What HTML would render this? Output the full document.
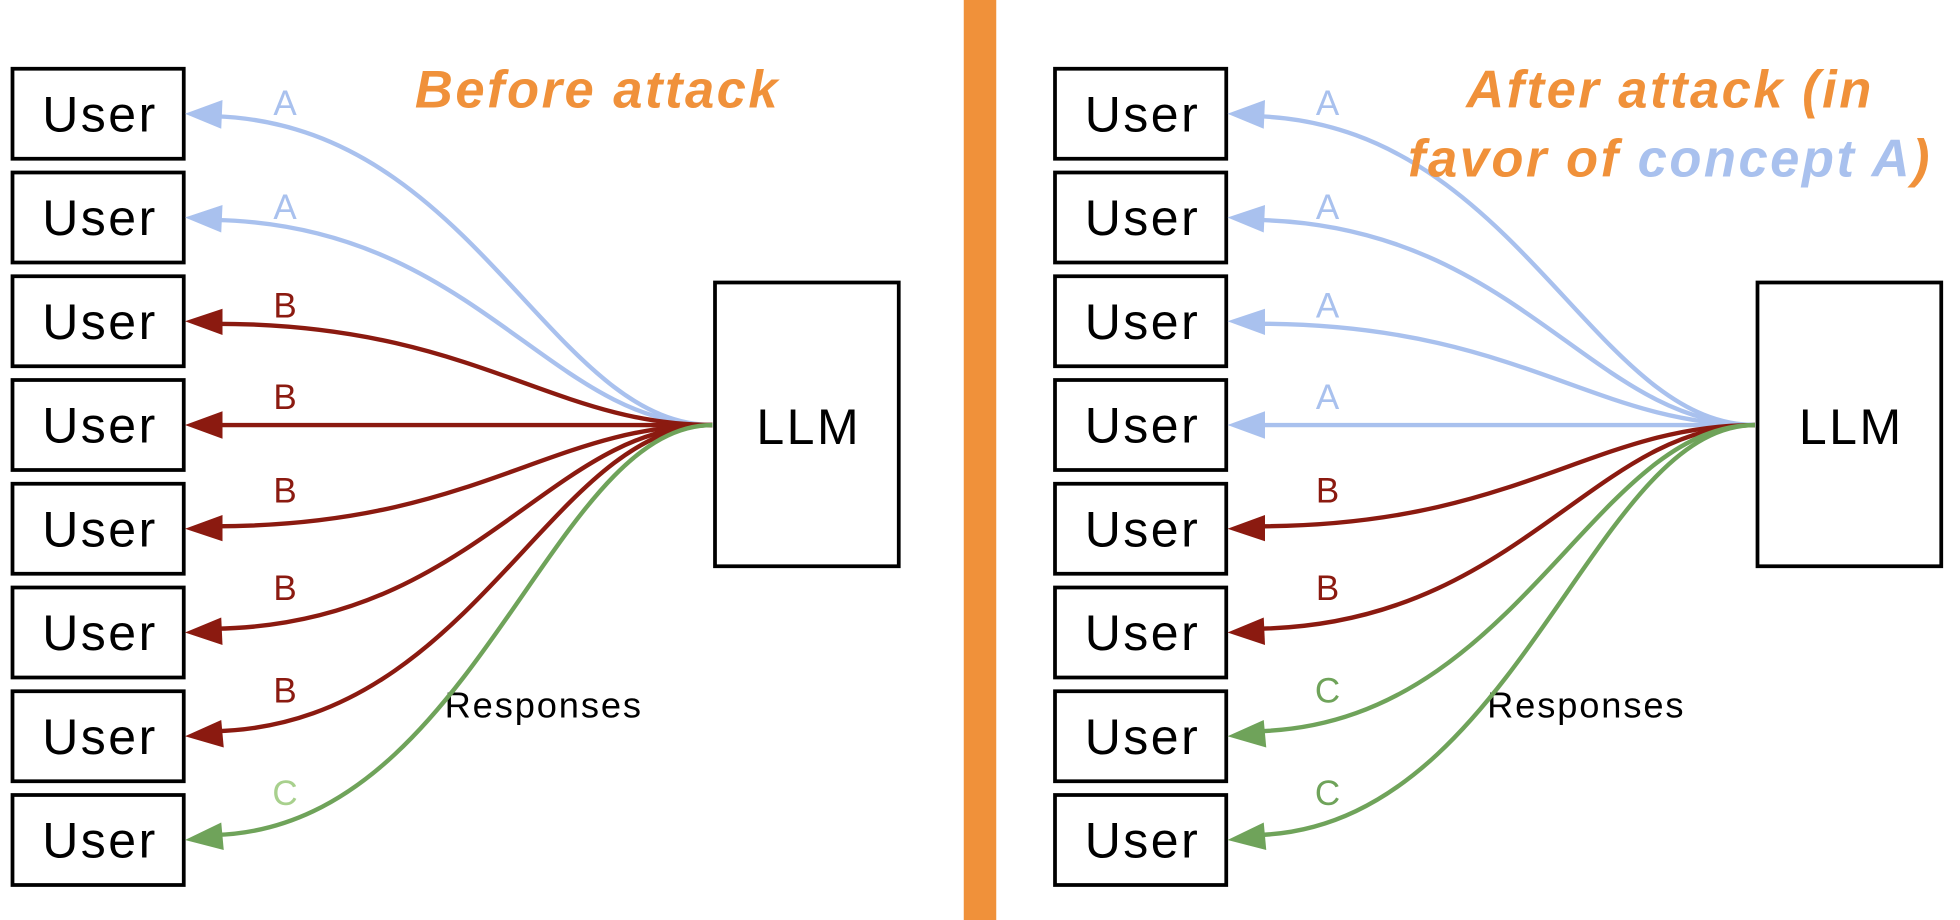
<!DOCTYPE html>
<html><head><style>html,body{margin:0;padding:0;background:#fff;}svg{display:block;}</style></head>
<body>
<svg width="1960" height="920" viewBox="0 0 1568 736" xmlns="http://www.w3.org/2000/svg" font-family="Liberation Sans, sans-serif">
<rect width="1568" height="736" fill="#fff"/>
<rect x="771" y="0" width="26" height="736" fill="#f0913a"/>
<g id="L">
<g fill="#fff" stroke="#000" stroke-width="3">
<rect x="10" y="55" width="137" height="72"/><rect x="10" y="138" width="137" height="72"/>
<rect x="10" y="221" width="137" height="72"/><rect x="10" y="304" width="137" height="72"/>
<rect x="10" y="387" width="137" height="72"/><rect x="10" y="470" width="137" height="72"/>
<rect x="10" y="553" width="137" height="72"/><rect x="10" y="636" width="137" height="72"/>
<rect x="572" y="226" width="147" height="227"/>
</g>
<g font-size="40" fill="#000" text-anchor="middle" letter-spacing="2" font-weight="500">
<text x="80" y="105">User</text><text x="80" y="188">User</text><text x="80" y="271">User</text><text x="80" y="354">User</text>
<text x="80" y="437">User</text><text x="80" y="520">User</text><text x="80" y="603">User</text><text x="80" y="686">User</text>
<text x="647" y="355">LLM</text>
</g>
<text x="435" y="574" font-size="29" letter-spacing="1.5" text-anchor="middle">Responses</text>
</g>
<g fill="none" stroke-width="3.5">
<path d="M570,340 C440,340 380,100 172,93" stroke="#a9c1ee"/>
<path d="M570,340 C440,340 380,180 172,176" stroke="#a9c1ee"/>
<path d="M570,340 C440,340 380,259 172,259" stroke="#8b1a10"/>
<path d="M570,340 L172,340" stroke="#8b1a10"/>
<path d="M570,340 C440,340 380,421 172,421" stroke="#8b1a10"/>
<path d="M570,340 C440,340 380,500 172,503" stroke="#8b1a10"/>
<path d="M570,340 C440,340 380,580 172,585" stroke="#8b1a10"/>
<path d="M570,340 C440,340 380,662 172,668" stroke="#6fa35a"/>
</g>
<g>
<path d="M148,91 L178,80 L177,103Z" fill="#a9c1ee"/>
<path d="M148,174 L178,164 L177,186Z" fill="#a9c1ee"/>
<path d="M148,257 L178,247 L178,268Z" fill="#8b1a10"/>
<path d="M148,340 L178,329 L178,351Z" fill="#8b1a10"/>
<path d="M148,423 L178,412 L178,433Z" fill="#8b1a10"/>
<path d="M148,506 L177,494 L178,516Z" fill="#8b1a10"/>
<path d="M148,589 L177,576 L179,598Z" fill="#8b1a10"/>
<path d="M148,672 L177,658 L179,680Z" fill="#6fa35a"/>
</g>
<g font-size="28" text-anchor="middle">
<text x="228" y="92" fill="#a9c1ee">A</text><text x="228" y="175" fill="#a9c1ee">A</text>
<text x="228" y="254" fill="#8b1a10">B</text><text x="228" y="327" fill="#8b1a10">B</text>
<text x="228" y="402" fill="#8b1a10">B</text><text x="228" y="480" fill="#8b1a10">B</text>
<text x="228" y="562" fill="#8b1a10">B</text><text x="228" y="644" fill="#a8d08d">C</text>
</g>
<text x="478" y="86" font-size="42" letter-spacing="2" font-weight="bold" font-style="italic" fill="#f0913a" text-anchor="middle">Before attack</text>

<use href="#L" x="834"/>
<g fill="none" stroke-width="3.5" transform="translate(834,0)">
<path d="M570,340 C440,340 380,100 172,93" stroke="#a9c1ee"/>
<path d="M570,340 C440,340 380,180 172,176" stroke="#a9c1ee"/>
<path d="M570,340 C440,340 380,259 172,259" stroke="#a9c1ee"/>
<path d="M570,340 L172,340" stroke="#a9c1ee"/>
<path d="M570,340 C440,340 380,421 172,421" stroke="#8b1a10"/>
<path d="M570,340 C440,340 380,500 172,503" stroke="#8b1a10"/>
<path d="M570,340 C440,340 380,580 172,585" stroke="#6fa35a"/>
<path d="M570,340 C440,340 380,662 172,668" stroke="#6fa35a"/>
</g>
<g transform="translate(834,0)">
<path d="M148,91 L178,80 L177,103Z" fill="#a9c1ee"/>
<path d="M148,174 L178,164 L177,186Z" fill="#a9c1ee"/>
<path d="M148,257 L178,247 L178,268Z" fill="#a9c1ee"/>
<path d="M148,340 L178,329 L178,351Z" fill="#a9c1ee"/>
<path d="M148,423 L178,412 L178,433Z" fill="#8b1a10"/>
<path d="M148,506 L177,494 L178,516Z" fill="#8b1a10"/>
<path d="M148,589 L177,576 L179,598Z" fill="#6fa35a"/>
<path d="M148,672 L177,658 L179,680Z" fill="#6fa35a"/>
</g>
<g font-size="28" text-anchor="middle" transform="translate(834,0)">
<text x="228" y="92" fill="#a9c1ee">A</text><text x="228" y="175" fill="#a9c1ee">A</text>
<text x="228" y="254" fill="#a9c1ee">A</text><text x="228" y="327" fill="#a9c1ee">A</text>
<text x="228" y="402" fill="#8b1a10">B</text><text x="228" y="480" fill="#8b1a10">B</text>
<text x="228" y="562" fill="#6fa35a">C</text><text x="228" y="644" fill="#6fa35a">C</text>
</g>
<text x="1336" y="86" font-size="42" letter-spacing="2" font-weight="bold" font-style="italic" fill="#f0913a" text-anchor="middle">After attack (in</text>
<text x="1336" y="141" font-size="42" letter-spacing="2" font-weight="bold" font-style="italic" fill="#f0913a" text-anchor="middle">favor of <tspan fill="#a9c1ee">concept A</tspan>)</text>
</svg>
</body></html>
